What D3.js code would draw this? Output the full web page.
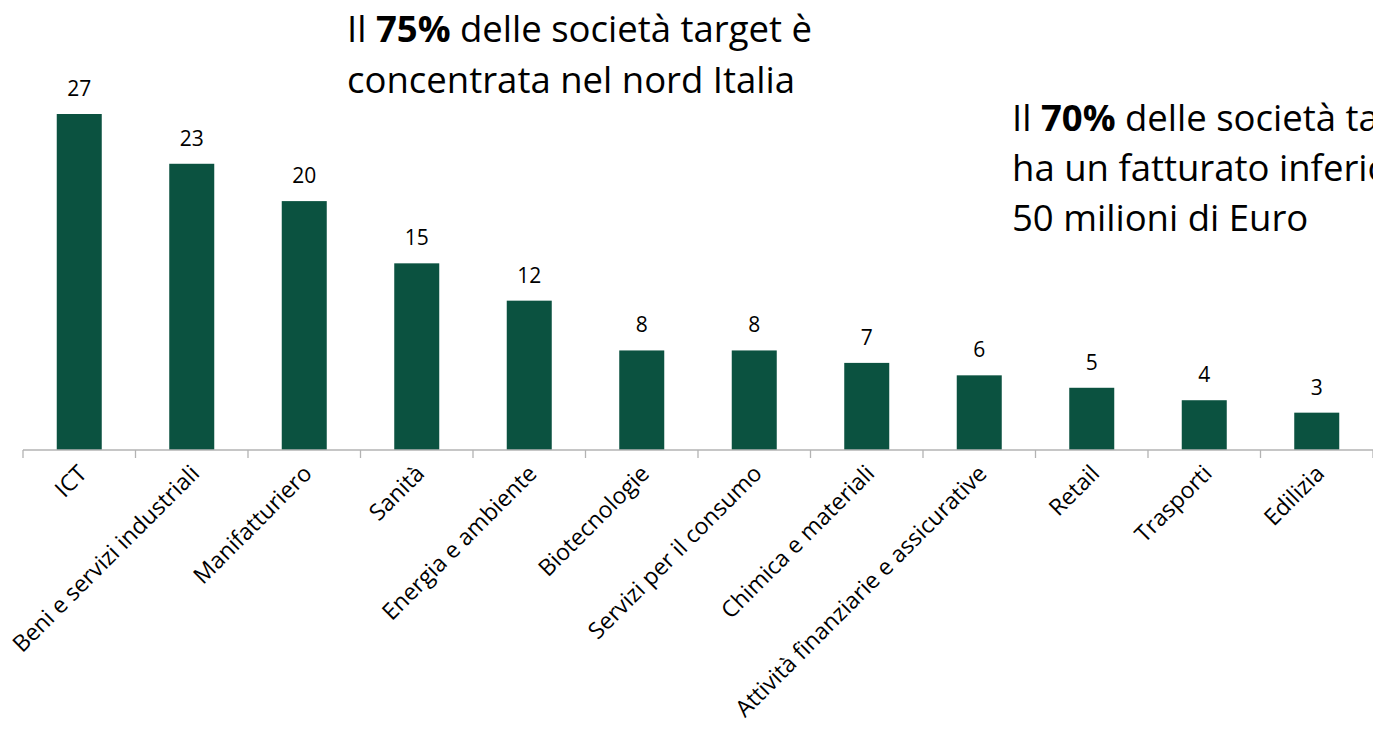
<!DOCTYPE html>
<html>
<head>
<meta charset="utf-8">
<script src="https://cdn.jsdelivr.net/npm/d3@7"></script>
<style>
  body { margin: 0; background: #fff; overflow: hidden; }
  svg { display: block; font-family: "Open Sans", "Noto Sans", sans-serif; }
</style>
</head>
<body>
<div id="chart"></div>
<script>
// Categories and values
const categories = [
  "ICT", "Beni e servizi industriali", "Manifatturiero", "Sanità",
  "Energia e ambiente", "Biotecnologie", "Servizi per il consumo",
  "Chimica e materiali", "Attività finanziarie e assicurative",
  "Retail", "Trasporti", "Edilizia"
];
const values = [27, 23, 20, 15, 12, 8, 8, 7, 6, 5, 4, 3];

const note1 = [
  [{ t: "Il ", b: false }, { t: "75%", b: true }, { t: " delle società target è", b: false }],
  [{ t: "concentrata nel nord Italia", b: false }]
];
const note2 = [
  [{ t: "Il ", b: false }, { t: "70%", b: true }, { t: " delle società target", b: false }],
  [{ t: "ha un fatturato inferiore a", b: false }],
  [{ t: "50 milioni di Euro", b: false }]
];

const W = 1373, H = 736;
const margin = { left: 23, axisY: 450 };

const svg = d3.select("#chart")
  .append("svg")
  .attr("width", W)
  .attr("height", H);

const x = d3.scaleBand()
  .domain(categories)
  .range([margin.left, W])
  .paddingInner(0.6)
  .paddingOuter(0.3);

// 27 units ≈ 336px
const y = d3.scaleLinear()
  .domain([0, 27])
  .range([margin.axisY, 114]);

// bars
svg.selectAll(".bar")
  .data(values)
  .enter()
  .append("rect")
  .attr("class", "bar")
  .attr("x", (d, i) => x(categories[i]))
  .attr("y", (d) => y(d))
  .attr("width", x.bandwidth())
  .attr("height", (d) => y(0) - y(d))
  .attr("fill", "#0b5240");

// value labels
svg.selectAll(".val")
  .data(values)
  .enter()
  .append("text")
  .attr("class", "val")
  .attr("x", (d, i) => x(categories[i]) + x.bandwidth() / 2)
  .attr("y", (d) => y(d) - 18)
  .attr("text-anchor", "middle")
  .attr("font-size", 21)
  .attr("fill", "#000")
  .text((d) => d);

// axis line + ticks at band boundaries
const step = x.step();
const bounds = d3.range(categories.length + 1).map((i) => margin.left + i * step);
svg.append("line")
  .attr("x1", margin.left).attr("x2", W)
  .attr("y1", y(0)).attr("y2", y(0))
  .attr("stroke", "#b3b3b3").attr("stroke-width", 1.3);
svg.selectAll(".tick")
  .data(bounds)
  .enter()
  .append("line")
  .attr("x1", (d) => d).attr("x2", (d) => d)
  .attr("y1", y(0)).attr("y2", y(0) + 8)
  .attr("stroke", "#b3b3b3").attr("stroke-width", 1.3);

// rotated category labels
svg.selectAll(".cat")
  .data(categories)
  .enter()
  .append("text")
  .attr("class", "cat")
  .attr("text-anchor", "end")
  .attr("font-size", 23)
  .attr("fill", "#000")
  .attr("transform", (d) => `translate(${x(d) + x.bandwidth() / 2 + 9},${y(0) + 25}) rotate(-45)`)
  .text((d) => d);

// annotations (the right one runs off the page edge, as in the original slide)
function drawNote(lines, x0, y0, lh) {
  lines.forEach((parts, i) => {
    const t = svg.append("text")
      .attr("x", x0)
      .attr("y", y0 + i * lh)
      .attr("font-size", 36.5)
      .attr("fill", "#000");
    parts.forEach((p) => {
      t.append("tspan")
        .attr("font-weight", p.b ? "bold" : "normal")
        .text(p.t);
    });
  });
}
drawNote(note1, 347, 42, 51);
drawNote(note2, 1012, 131, 50);
</script>
</body>
</html>
